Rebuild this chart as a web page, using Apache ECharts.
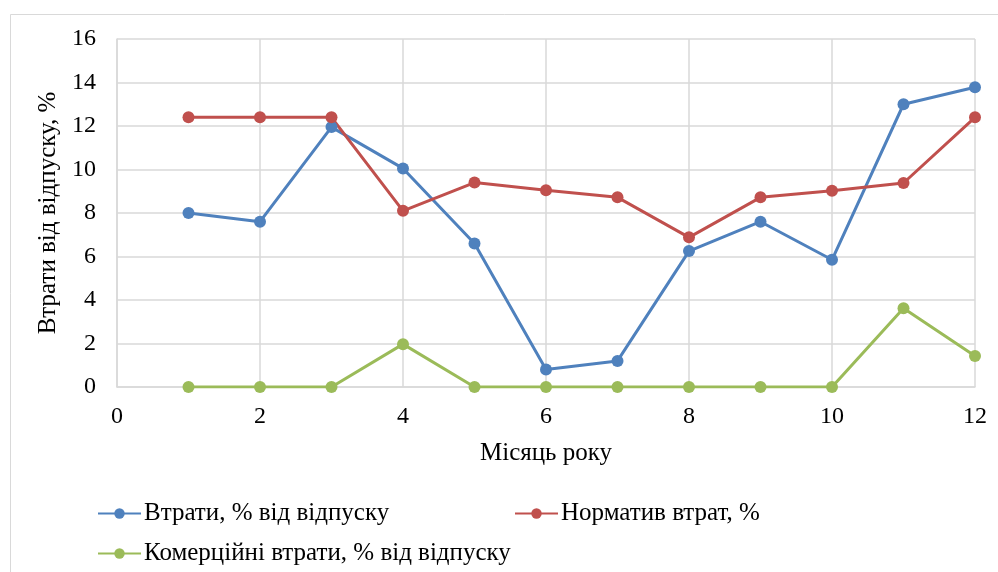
<!DOCTYPE html>
<html>
<head>
<meta charset="utf-8">
<script src="https://cdn.jsdelivr.net/npm/echarts@6/dist/echarts.min.js"></script>
<style>
html, body { margin: 0; padding: 0; background: #fff; }
#chart { width: 998px; height: 572px; }
</style>
</head>
<body>
<div id="chart"></div>
<script>
// Місяці року
const months = [1, 2, 3, 4, 5, 6, 7, 8, 9, 10, 11, 12];
// Втрати, % від відпуску
const losses = [8.0, 7.6, 11.95, 10.05, 6.6, 0.8, 1.2, 6.25, 7.6, 5.85, 13.0, 13.78];
// Норматив втрат, %
const normative = [12.4, 12.4, 12.4, 8.1, 9.4, 9.05, 8.72, 6.88, 8.72, 9.02, 9.38, 12.4];
// Комерційні втрати, % від відпуску
const commercial = [0, 0, 0, 1.97, 0, 0, 0, 0, 0, 0, 3.62, 1.42];

const seriesNames = [
  'Втрати, % від відпуску',
  'Норматив втрат, %',
  'Комерційні втрати, % від відпуску'
];
const colors = ['#4F81BD', '#C0504D', '#9BBB59'];
const FONT = 'Times New Roman, Liberation Serif, DejaVu Serif, serif';
const FS_TICK = 24;
const FS_TEXT = 25;

const pairs = arr => months.map((m, i) => [m, arr[i]]);

const chart = echarts.init(document.getElementById('chart'), null, { renderer: 'canvas' });

function lineSeries(name, data, color) {
  return {
    name: name,
    type: 'line',
    data: pairs(data),
    symbol: 'circle',
    symbolSize: 12,
    showSymbol: true,
    lineStyle: { color: color, width: 3 },
    itemStyle: { color: color },
    emphasis: { disabled: true },
    animation: false
  };
}

const legendCommon = {
  orient: 'horizontal',
  itemWidth: 43,
  itemHeight: 13,
  textStyle: { fontFamily: FONT, fontSize: FS_TEXT, color: '#000', padding: [0, 0, 0, -2] }
};

chart.setOption({
  backgroundColor: '#fff',
  animation: false,
  textStyle: { fontFamily: FONT },
  graphic: [{
    type: 'rect',
    shape: { x: 10.5, y: 14.5, width: 1100, height: 700 },
    style: { fill: 'none', stroke: '#d9d9d9', lineWidth: 1 },
    silent: true,
    z: -10
  }],
  grid: { left: 117, right: 23, top: 39, bottom: 185, containLabel: false },
  xAxis: {
    type: 'value',
    min: 0,
    max: 12,
    interval: 2,
    name: 'Місяць року',
    nameLocation: 'middle',
    nameGap: 54,
    nameTextStyle: { fontFamily: FONT, fontSize: FS_TEXT, color: '#000' },
    axisLine: { show: true, lineStyle: { color: '#d9d9d9', width: 1.5 } },
    axisTick: { show: false },
    axisLabel: { fontFamily: FONT, fontSize: FS_TICK, color: '#000', margin: 18 },
    splitLine: { show: true, lineStyle: { color: '#d9d9d9', width: 1.5 } }
  },
  yAxis: {
    type: 'value',
    min: 0,
    max: 16,
    interval: 2,
    name: 'Втрати від відпуску, %',
    nameLocation: 'middle',
    nameGap: 51,
    nameTextStyle: { fontFamily: FONT, fontSize: FS_TEXT, color: '#000' },
    axisLine: { show: true, lineStyle: { color: '#d9d9d9', width: 1.5 } },
    axisTick: { show: false },
    axisLabel: { fontFamily: FONT, fontSize: FS_TICK, color: '#000', margin: 21 },
    splitLine: { show: true, lineStyle: { color: '#d9d9d9', width: 1.5 } }
  },
  legend: [
    Object.assign({}, legendCommon, {
      data: [seriesNames[0]],
      left: 92,
      top: 496
    }),
    Object.assign({}, legendCommon, {
      data: [seriesNames[1]],
      left: 509,
      top: 496
    }),
    Object.assign({}, legendCommon, {
      data: [seriesNames[2]],
      left: 92,
      top: 536
    })
  ],
  series: [
    lineSeries(seriesNames[0], losses, colors[0]),
    lineSeries(seriesNames[1], normative, colors[1]),
    lineSeries(seriesNames[2], commercial, colors[2])
  ]
});
</script>
</body>
</html>
